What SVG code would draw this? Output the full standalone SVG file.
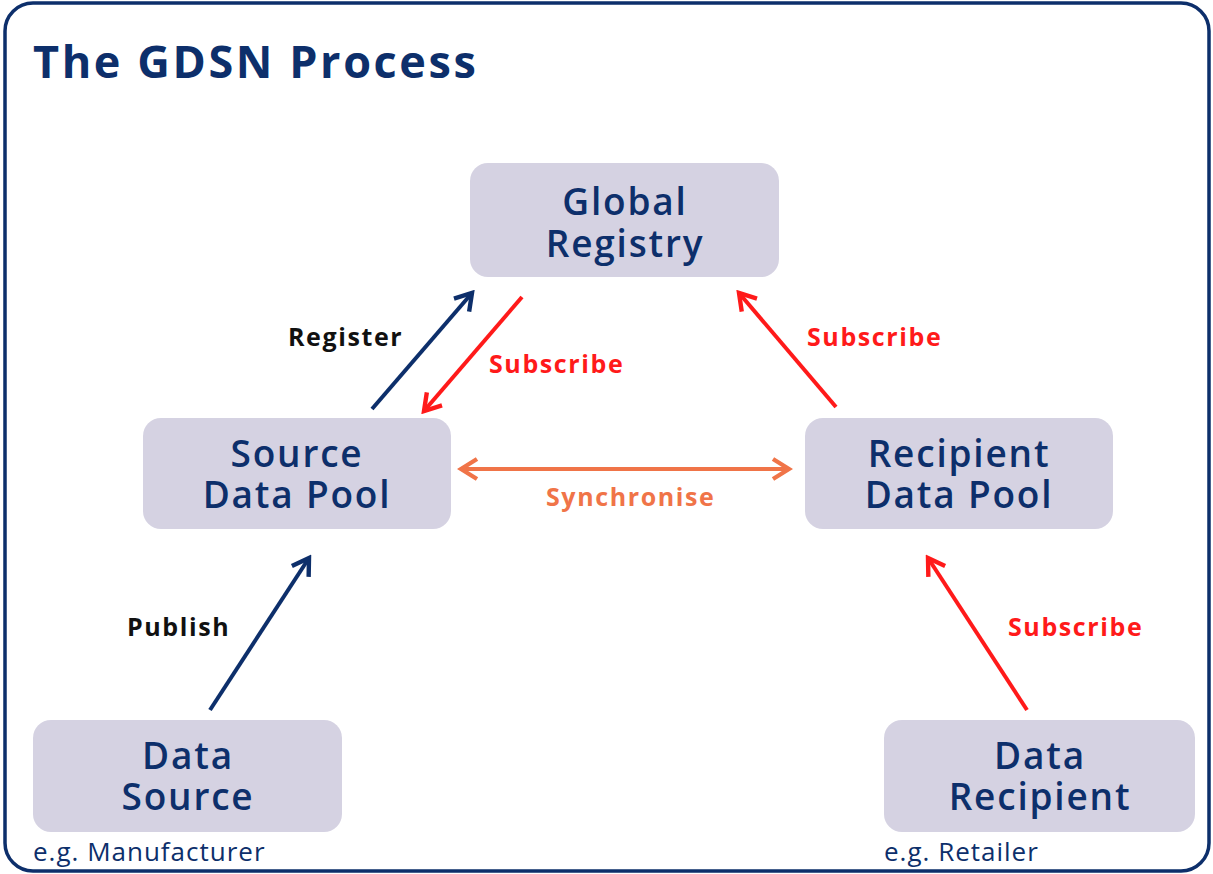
<svg xmlns="http://www.w3.org/2000/svg" width="1213" height="874" viewBox="0 0 1213 874">
<defs>
<style>
.node rect{fill:#d5d2e2;}
.nt{font-family:"Open Sans","Liberation Sans",sans-serif;font-weight:600;font-size:37px;letter-spacing:1.8px;fill:#0d2f6b;text-anchor:middle;}
.lbl{font-family:"Open Sans","Liberation Sans",sans-serif;font-weight:700;font-size:25px;letter-spacing:1.6px;}
.eg{font-family:"Open Sans","Liberation Sans",sans-serif;font-size:26px;letter-spacing:1px;fill:#0d2f6b;}
.c{fill:none;stroke-width:4;}
</style>
<marker id="aNavy" viewBox="0 0 12 12" refX="10" refY="6" markerWidth="6" markerHeight="6" orient="auto" markerUnits="strokeWidth"><path d="M2,1 L10,6 L2,11" fill="none" stroke="#0d2f6b" stroke-width="2.2"/></marker>
<marker id="aRed" viewBox="0 0 12 12" refX="10" refY="6" markerWidth="6" markerHeight="6" orient="auto" markerUnits="strokeWidth"><path d="M2,1 L10,6 L2,11" fill="none" stroke="#ff1a1a" stroke-width="2.2"/></marker>
<marker id="aOr" viewBox="0 0 12 12" refX="10" refY="6" markerWidth="6" markerHeight="6" orient="auto-start-reverse" markerUnits="strokeWidth"><path d="M2,1 L10,6 L2,11" fill="none" stroke="#f07448" stroke-width="2.2"/></marker>
</defs>
<rect x="0" y="0" width="1213" height="874" fill="#ffffff"/>
<rect x="5" y="3" width="1204" height="868" rx="28" fill="#ffffff" stroke="#0d2f6b" stroke-width="3.5"/>
<text x="33" y="78" font-family="'Open Sans','Liberation Sans',sans-serif" font-weight="700" font-size="45" letter-spacing="2.6" fill="#0d2f6b">The GDSN Process</text>

<g id="connectors">
<line class="c" x1="372" y1="409" x2="472" y2="293" stroke="#0d2f6b" marker-end="url(#aNavy)"/>
<line class="c" x1="522" y1="297" x2="424" y2="411" stroke="#ff1a1a" marker-end="url(#aRed)"/>
<line class="c" x1="836" y1="407" x2="739" y2="293" stroke="#ff1a1a" marker-end="url(#aRed)"/>
<line class="c" x1="461" y1="469" x2="789" y2="469" stroke="#f07448" marker-start="url(#aOr)" marker-end="url(#aOr)" stroke-width="3.5"/>
<line class="c" x1="210" y1="710" x2="309" y2="558" stroke="#0d2f6b" marker-end="url(#aNavy)"/>
<line class="c" x1="1027" y1="710" x2="928" y2="558" stroke="#ff1a1a" marker-end="url(#aRed)"/>
<text class="lbl" x="288" y="346" fill="#111111">Register</text>
<text class="lbl" x="489" y="373" fill="#ff1a1a">Subscribe</text>
<text class="lbl" x="807" y="346" fill="#ff1a1a">Subscribe</text>
<text class="lbl" x="546" y="506" fill="#f07448">Synchronise</text>
<text class="lbl" x="127" y="636" fill="#111111">Publish</text>
<text class="lbl" x="1008" y="636" fill="#ff1a1a">Subscribe</text>
</g>

<g id="global-registry" class="node">
<rect x="470" y="163" width="309" height="114" rx="18"/>
<text class="nt" x="625" y="215">Global</text>
<text class="nt" x="625" y="257">Registry</text>
</g>
<g id="source-data-pool" class="node">
<rect x="143" y="418" width="308" height="111" rx="18"/>
<text class="nt" x="297" y="467">Source</text>
<text class="nt" x="297" y="508">Data Pool</text>
</g>
<g id="recipient-data-pool" class="node">
<rect x="805" y="418" width="308" height="111" rx="18"/>
<text class="nt" x="959" y="467">Recipient</text>
<text class="nt" x="959" y="508">Data Pool</text>
</g>
<g id="data-source" class="node">
<rect x="33" y="720" width="309" height="112" rx="18"/>
<text class="nt" x="188" y="769">Data</text>
<text class="nt" x="188" y="810">Source</text>
<text class="eg" x="33" y="861">e.g. Manufacturer</text>
</g>
<g id="data-recipient" class="node">
<rect x="884" y="720" width="311" height="112" rx="18"/>
<text class="nt" x="1040" y="769">Data</text>
<text class="nt" x="1040" y="810">Recipient</text>
<text class="eg" x="884" y="861">e.g. Retailer</text>
</g>
</svg>
